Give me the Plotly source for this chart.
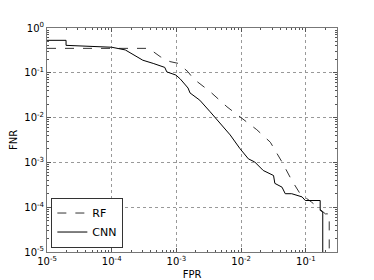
import plotly.graph_objects as go

# RF curve (dashed)
rf_fpr = [1e-5, 3.72e-4, 5.62e-4, 7.94e-4, 1.07e-3, 1.51e-3, 1.82e-3, 3.31e-3, 6.03e-3,
          9.55e-3, 0.0174, 0.0282, 0.0427, 0.0603, 0.0813, 0.123, 0.178, 0.2, 0.229, 0.229]
rf_fnr = [0.351, 0.351, 0.229, 0.178, 0.162, 0.105, 0.0741, 0.038, 0.0174,
          0.0105, 0.00537, 0.00282, 0.00102, 4.0e-4, 2.0e-4, 1.29e-4, 8.5e-5, 7.1e-5, 7.1e-5, 1e-6]

# CNN curve (solid)
cnn_fpr = [1e-5, 1.97e-5, 1.97e-5, 1e-4, 1.62e-4, 2.14e-4, 3.02e-4, 4.37e-4, 6.6e-4, 7.08e-4,
           9.8e-4, 1.15e-3, 1.51e-3, 1.62e-3, 2.29e-3, 3.31e-3, 4.68e-3, 6.76e-3, 9.55e-3, 0.0129,
           0.0162, 0.0219, 0.0316, 0.0331, 0.0427, 0.0479, 0.0603, 0.0871, 0.0977, 0.166,
           0.166, 0.182, 0.182]
cnn_fnr = [0.531, 0.531, 0.41, 0.372, 0.324, 0.251, 0.191, 0.162, 0.132, 0.105,
           0.089, 0.0724, 0.0457, 0.0355, 0.0245, 0.0135, 0.0074, 0.0041, 0.00204, 0.0012,
           0.00102, 6.6e-4, 5.1e-4, 3.4e-4, 2.8e-4, 2.0e-4, 2.0e-4, 1.7e-4, 1.41e-4, 1.41e-4,
           8.5e-5, 7.8e-5, 1e-6]

x_tickvals = [1e-5, 1e-4, 1e-3, 1e-2, 1e-1]
x_ticktext = ["10<sup>-5</sup>", "10<sup>-4</sup>", "10<sup>-3</sup>", "10<sup>-2</sup>", "10<sup>-1</sup>"]
y_tickvals = [1e-5, 1e-4, 1e-3, 1e-2, 1e-1, 1]
y_ticktext = ["10<sup>-5</sup>", "10<sup>-4</sup>", "10<sup>-3</sup>", "10<sup>-2</sup>", "10<sup>-1</sup>", "10<sup>0</sup>"]

fig = go.Figure()
fig.add_trace(go.Scatter(x=rf_fpr, y=rf_fnr, mode="lines", name="RF",
                         line=dict(color="#333333", width=1, dash="dash")))
fig.add_trace(go.Scatter(x=cnn_fpr, y=cnn_fnr, mode="lines", name="CNN",
                         line=dict(color="black", width=1)))

axis_common = dict(
    type="log", showline=True, linecolor="#777777", linewidth=1, mirror="ticks",
    ticks="inside", ticklen=4, tickcolor="#555555", automargin=False,
    showgrid=True, gridcolor="#999999", griddash="dot", gridwidth=1,
    zeroline=False,
    tickfont=dict(family="DejaVu Sans", size=10, color="black"),
    minor=dict(ticks="inside", ticklen=2, tickcolor="#555555", showgrid=False, dtick="D1"),
)

fig.update_xaxes(range=[-5, -0.52], tickvals=x_tickvals, ticktext=x_ticktext,
                 title=dict(text="FPR", font=dict(family="DejaVu Sans", size=10), standoff=4),
                 **axis_common)
fig.update_yaxes(range=[-5, 0], tickvals=y_tickvals, ticktext=y_ticktext,
                 title=dict(text="FNR", font=dict(family="DejaVu Sans", size=10), standoff=4),
                 **axis_common)

fig.update_layout(
    width=366, height=272, autosize=False,
    margin=dict(l=39, r=37, t=20, b=28, pad=0, autoexpand=False),
    plot_bgcolor="white", paper_bgcolor="white",
    font=dict(family="DejaVu Sans", size=10, color="black"),
    legend=dict(x=0.015, y=0.02, xanchor="left", yanchor="bottom",
                bordercolor="#333333", borderwidth=1, bgcolor="white",
                tracegroupgap=0, itemwidth=30,
                font=dict(family="DejaVu Sans", size=11)),
)

fig.write_html("out.html")
